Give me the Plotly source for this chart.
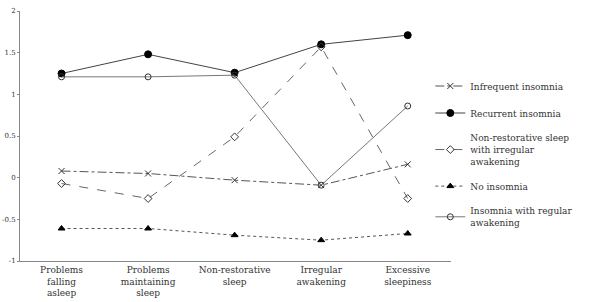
import plotly.graph_objects as go

categories = ["Problems<br>falling<br>asleep", "Problems<br>maintaining<br>sleep",
              "Non-restorative<br>sleep", "Irregular<br>awakening", "Excessive<br>sleepiness"]

infrequent = [0.08, 0.05, -0.03, -0.09, 0.16]
recurrent = [1.25, 1.48, 1.26, 1.60, 1.71]
nonrestorative = [-0.07, -0.25, 0.49, 1.57, -0.25]
no_insomnia = [-0.61, -0.61, -0.69, -0.75, -0.67]
regular = [1.21, 1.21, 1.23, -0.09, 0.86]

names = ["Infrequent insomnia", "Recurrent insomnia",
         "Non-restorative sleep<br>with irregular<br>awakening",
         "No insomnia", "Insomnia with regular<br>awakening"]

FONT = "DejaVu Serif"
x = list(range(len(categories)))

styles = [
    (infrequent, "x-thin-open", 6, "dashdot", "#555", "#333"),
    (recurrent, "circle", 7, "solid", "#444", "#000"),
    (nonrestorative, "diamond-open", 6, "dash", "#666", "#333"),
    (no_insomnia, "triangle-up", 6, "dot", "#555", "#000"),
    (regular, "circle-open", 6, "solid", "#777", "#333"),
]

fig = go.Figure()
for (vals, sym, size, dash, lc, mc), name in zip(styles, names):
    fig.add_trace(go.Scatter(
        x=x, y=vals, name=name, legendgroup=name, mode="lines+markers",
        line=dict(color=lc, width=1, dash=dash),
        marker=dict(symbol=sym, size=size, color=mc,
                    line=dict(color=mc, width=1)),
    ))

fig.update_layout(
    width=589, height=302,
    margin=dict(l=20, r=128, t=11, b=41),
    paper_bgcolor="white", plot_bgcolor="white",
    font=dict(family=FONT, size=9, color="#333"),
    showlegend=True,
    legend=dict(x=0.952, y=0.758, xanchor="left", yanchor="top",
                font=dict(family=FONT, size=9, color="#333"),
                itemwidth=30, tracegroupgap=8, bgcolor="rgba(0,0,0,0)"),
    xaxis=dict(range=[-0.48, 4.5], tickvals=x, ticktext=categories,
               showgrid=False, zeroline=False, showline=True, linecolor="#888",
               ticks="", automargin=False,
               tickfont=dict(family=FONT, size=9, color="#333")),
    yaxis=dict(range=[-1, 2], tickvals=[-1, -0.5, 0, 0.5, 1, 1.5, 2],
               ticktext=["-1", "-0.5", "0", "0.5", "1", "1.5", "2"],
               showgrid=False, zeroline=False, showline=True, linecolor="#888",
               ticks="outside", ticklen=2, tickcolor="#888", automargin=False,
               tickfont=dict(family=FONT, size=7, color="#333")),
)

fig.write_html("out.html",
               config={"displayModeBar": False},
               post_script="document.body.style.margin='0';")
